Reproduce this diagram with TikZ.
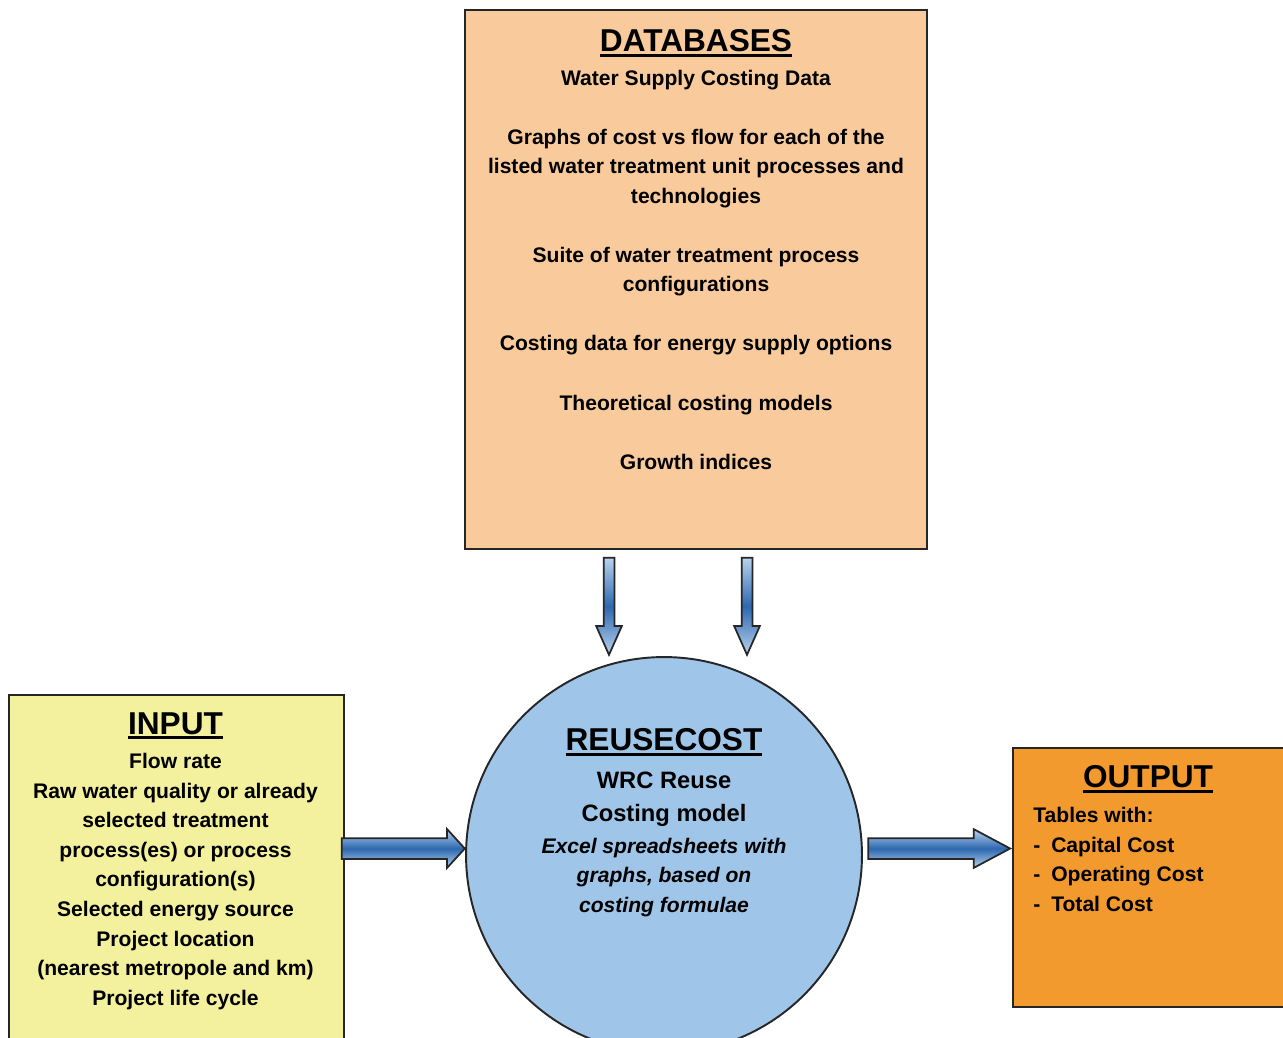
\documentclass[tikz,border=0pt]{standalone}
\usepackage{fontspec}
\setmainfont{Liberation Sans}
\usepackage{xcolor}
\usepackage{tikz}
\usetikzlibrary{shapes.arrows}

\definecolor{dbpeach}{HTML}{F9CB9C}
\definecolor{inyellow}{HTML}{F3F19E}
\definecolor{coreblue}{HTML}{9FC5E8}
\definecolor{outorange}{HTML}{F39A2F}
\definecolor{arrowdark}{HTML}{2D68B0}
\definecolor{arrowlight}{HTML}{B9D2EE}

\newcommand{\boxtitle}[1]{{\fontsize{18}{20}\selectfont\setbox0\hbox{#1}\rlap{\rule[-3pt]{\wd0}{1.7pt}}\box0}}

\tikzset{
  panel/.style={draw=black!85, line width=1.1pt, inner sep=0pt},
  bodytext/.style={inner sep=0pt, align=center, font=\fontsize{12}{16.8}\selectfont\bfseries},
  bigarrow/.style={single arrow, draw=black!85, line width=1pt, inner xsep=0pt, anchor=tip,
    top color=arrowlight, bottom color=arrowlight, middle color=arrowdark},
}

\begin{document}
\begin{tikzpicture}[x=0.02cm,y=-0.02cm]
  \useasboundingbox (0,0) rectangle (1283,1037);
  \clip (0,0) rectangle (1283,1037);
  \fill[white] (0,0) rectangle (1283,1037);

  \node[panel, rectangle, fill=dbpeach, minimum width=9.24cm, minimum height=10.78cm] (db) at (696,279.5) {};
  \node[panel, rectangle, fill=inyellow, minimum width=6.7cm, minimum height=8cm, anchor=north west] (inp) at (8,694) {};
  \node[panel, circle, fill=coreblue, minimum size=7.92cm] (core) at (664,855) {};
  \node[panel, rectangle, fill=outorange, minimum width=5.8cm, minimum height=5.18cm, anchor=north west] (out) at (1012,747) {};

  \node[bodytext, anchor=north] (dbtext) at (696,29) {\boxtitle{DATABASES}\\[2.5pt]
    Water Supply Costing Data\\[16.8pt]
    Graphs of cost vs flow for each of the\\
    listed water treatment unit processes and\\
    technologies\\[16.8pt]
    Suite of water treatment process\\
    configurations\\[16.8pt]
    Costing data for energy supply options\\[16.8pt]
    Theoretical costing models\\[16.8pt]
    Growth indices};

  \node[bodytext, anchor=north] (inptext) at (175.5,712) {\boxtitle{INPUT}\\[3pt]
    Flow rate\\
    Raw water quality or already\\
    selected treatment\\
    process(es) or process\\
    configuration(s)\\
    Selected energy source\\
    Project location\\
    (nearest metropole and km)\\
    Project life cycle};

  \node[bodytext, anchor=north] (coretext) at (664,728) {\boxtitle{REUSECOST}\\[5pt]
    {\fontsize{13.5}{16.8}\selectfont WRC Reuse}\\[2pt]
    {\fontsize{13.5}{16.8}\selectfont Costing model}\\[1pt]
    {\itshape Excel spreadsheets with}\\
    {\itshape graphs, based on}\\
    {\itshape costing formulae}};

  \node[bodytext, anchor=north] (outtitle) at (1148,765) {\boxtitle{OUTPUT}};
  \node[bodytext, align=left, anchor=north west] (outlist) at (1033,807) {Tables with:\\
    \makebox[10.2pt][l]{-}Capital Cost\\
    \makebox[10.2pt][l]{-}Operating Cost\\
    \makebox[10.2pt][l]{-}Total Cost};

  % block arrows
  \node[bigarrow, rotate=-90, inner ysep=0.09cm, minimum height=1.94cm, single arrow head extend=0.15cm, single arrow tip angle=48] (dbarrowa) at (609,657) {};
  \node[bigarrow, rotate=-90, inner ysep=0.09cm, minimum height=1.94cm, single arrow head extend=0.15cm, single arrow tip angle=48] (dbarrowb) at (747,657) {};
  \node[bigarrow, inner ysep=0.19cm, minimum height=2.46cm, single arrow head extend=0.18cm, single arrow tip angle=95] (inarrow) at (466,848.5) {};
  \node[bigarrow, inner ysep=0.19cm, minimum height=2.84cm, single arrow head extend=0.18cm, single arrow tip angle=56] (outarrow) at (out.west |- inarrow.tip) {};
\end{tikzpicture}
\end{document}
